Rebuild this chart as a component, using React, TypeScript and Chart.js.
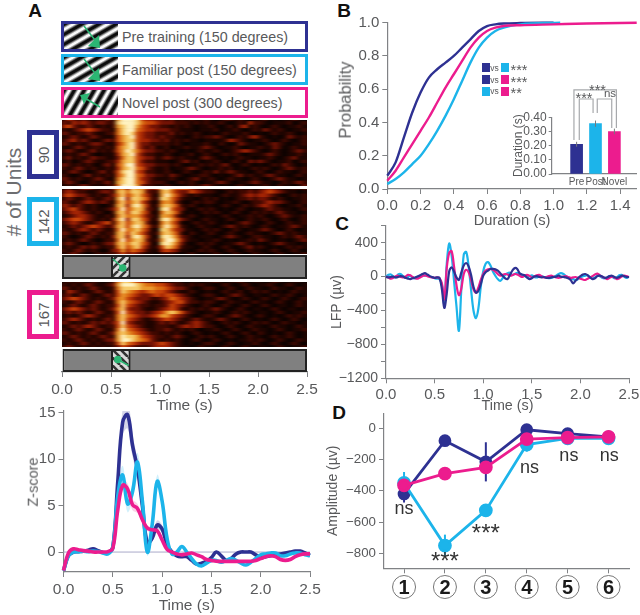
import React, { useEffect, useRef } from "react";
import { Chart, registerables } from "chart.js";

Chart.register(...registerables);

const NAVY = "#2e3192";
const CYAN = "#1cb4ea";
const PINK = "#ec1c8e";
const TEXT = "#58595b";
const AXIS = "#808285";
const FONT = "'Liberation Sans', Arial, sans-serif";

// ---------- Panel A heat maps: rows top to bottom, one digit (0-9) per 0.05 s bin
const heatColors = ["#0a0200", "#1e0400", "#3f0800", "#721204", "#a32404", "#c9450a", "#dc6c12", "#e9982e", "#f6cc6c", "#fff2c0"];
const heatBins = ["0.00","0.05","0.10","0.15","0.20","0.25","0.30","0.35","0.40","0.45","0.50","0.55","0.60","0.65","0.70","0.75","0.80","0.85","0.90","0.95","1.00","1.05","1.10","1.15","1.20","1.25","1.30","1.35","1.40","1.45","1.50","1.55","1.60","1.65","1.70","1.75","1.80","1.85","1.90","1.95","2.00","2.05","2.10","2.15","2.20","2.25","2.30","2.35","2.40","2.45"];
const heatPre = [
  "2432321223 1799985443 3231212112 1012212101 1201011210",
  "3243432332 2899986554 3332221212 1121012142 2101112012",
  "4532232121 2789975433 2212121011 2101203412 1012101121",
  "2123454322 1689965443 3322111011 1201121012 1321210112",
  "3212232112 2689854332 2231211210 1012111210 1012112101",
  "1232123211 1578954332 3221101212 2321012134 2101013212",
  "2342321123 2578854433 2312121101 1112432101 1210121012",
  "3212123321 1468953322 2212101112 1021013211 0123210112",
  "1123212212 1578953231 1201121123 2101121011 2113201211",
  "2321123121 2579864332 2121010121 1210123432 1012101232",
  "1212321011 1478953221 1210112012 1012121011 1232101121",
  "2312123221 1368854331 2321211023 2101012110 1121012311",
  "1201232112 2478853221 1101231201 1210121032 3210112012",
  "3212121023 1579954332 2212101121 2123101210 1012132101",
  "2123212112 1478965321 1201123210 1121201012 1210123212",
  "1232101231 2589954221 1210121012 1312321101 2101211012",
  "2101231212 1579965332 2132101122 1010123121 1232110121",
  "3212112321 1689964321 1121012311 2101211012 1012321101",
  "2321012123 1789965322 2101212101 1232101123 2110121232",
  "1212321112 2699973221 1210112123 2101012101 1210211013",
];
const heatFamiliar = [
  "2312332121 3674877434 8975554322 1112122121 2343211212",
  "3432211233 2786887322 7864335432 2101212232 3454321101",
  "4543321212 3685786421 7975321211 1012112343 4432101212",
  "2321232123 2794887522 8864211012 1201012232 3321210112",
  "3212343232 1685785311 6763101212 2101121012 2343321012",
  "4323212101 2784897412 7875212101 1012101212 3432101121",
  "3453212112 3695787321 8964310121 2101012101 1232211012",
  "2344321210 2785886411 6875201012 1210121012 1212321101",
  "1234432112 1686775321 7763112101 1012101121 2101232112",
  "3455432121 3794886412 8975321012 1101210121 1210121012",
  "2343212345 2685787311 6864101211 2101012321 0121012112",
  "1232345432 3785897522 7975210121 1012321210 1210112321",
  "2123432321 2696786411 8864311012 1210121011 2321012101",
  "3212123212 2785875312 7875202101 2101210121 1012321211",
  "2101232121 3784897411 8986321011 1012321012 2110121232",
  "1212321012 2695787312 7997421101 1210101121 3210110123",
  "2321012123 3786886411 8986310121 2101123210 1012321101",
  "1212323212 2685785312 5875211012 1012101231 2101012121",
  "2123212101 3474654211 4543110121 2101210121 1012101210",
  "1232101212 2353432110 2221012101 1210121012 1101210112",
];
const heatNovel = [
  "1212112101 2688754322 2212101101 1210112101 1012101110",
  "2121232112 3799987665 5432212121 1012101210 1121012101",
  "3212123211 2688887776 6543321012 2101210121 1012110121",
  "1432112321 2587654565 5432112101 1012112012 1210101211",
  "2312321123 2576543345 4554321012 2101232101 1012112101",
  "3454321212 3675433322 3465432101 1232101210 1210121012",
  "2123212321 2686543211 2345532212 2101211012 1101210121",
  "1232123212 2585432212 2354321012 1012101210 1210110121",
  "3454323212 3684332112 3454212121 2321012101 1012101101",
  "2323212321 2595433234 5787532101 1210121210 1101210112",
  "1212343212 2686543345 7754321012 2101232101 2101012121",
  "2343212123 2685432123 4543212321 1232101210 1012101210",
  "3212123232 3594322112 3232123432 1012121012 1210121101",
  "1232343212 2585432112 2212343432 2101210121 1012110121",
  "2123212321 2696543212 2321212101 1210121012 1101210112",
  "3212123212 3787654322 1212101210 1012101210 2101012101",
  "1232121232 2798875432 2123210121 2101210121 1012112101",
  "2123212123 3799876532 1212101210 1210101121 2101210121",
  "1212321212 2586543334 5432101012 2101210112 1012101210",
  "2321212121 2354322234 4432110121 1012101210 1101210112",
];

// ---------- Panel A z-score traces, one value per 0.05 s
const zTime = [0,0.05,0.1,0.15,0.2,0.25,0.3,0.35,0.4,0.45,0.5,0.55,0.6,0.65,0.7,0.75,0.8,0.85,0.9,0.95,1,1.05,1.1,1.15,1.2,1.25,1.3,1.35,1.4,1.45,1.5,1.55,1.6,1.65,1.7,1.75,1.8,1.85,1.9,1.95,2,2.05,2.1,2.15,2.2,2.25,2.3,2.35,2.4,2.45,2.5];
const zNavy = [-2,-0.4,0,0.05,0.1,0.2,0.35,0.15,-0.05,-0.05,0.5,7.5,14,14.8,11.5,9,5,1,1.5,2.9,2.5,0.8,0,-0.4,-0.5,-0.5,-0.9,-1.3,-1.2,-1,-0.6,0,-0.4,-0.9,-0.7,-0.2,0,0,0,-0.3,-0.6,-0.5,-0.4,-0.3,-0.2,-0.1,0,0.1,0.1,-0.1,-0.35];
const zCyan = [-2,-0.4,0,0.05,0.1,0.05,0.1,0.05,-0.1,-0.2,0.5,6,8.3,5.2,6.5,9.7,5.5,0,3,7.6,5.5,1.5,-0.2,0,0.6,0,-0.7,-1.3,-1.5,-1.2,-0.9,-0.9,-1.1,-0.9,-0.7,-0.9,-1.2,-1.4,-1.1,-0.7,-0.3,-0.2,-0.1,-0.1,-0.4,-0.4,-0.2,-0.1,-0.1,-0.3,-0.4];
const zPink = [-2,-0.1,0.35,0.25,0.15,0.1,0,0,0,0.05,0.4,4.5,7.2,6.8,5.1,4.7,3.5,2.6,2.4,2.3,1.3,0.3,0,-0.2,-0.3,-0.2,-0.1,-0.3,-0.5,-0.8,-0.9,-1,-1,-1,-1,-1,-1,-1,-1,-0.9,-0.7,-0.5,-0.4,-0.5,-0.8,-0.9,-0.8,-0.5,-0.3,-0.2,-0.2];
const zNavySem = [0.1,0.1,0.1,0.1,0.1,0.1,0.1,0.1,0.1,0.1,0.2,1,1.4,1.5,1.2,0.9,0.6,0.4,0.4,0.5,0.4,0.3,0.1,0.1,0.1,0.1,0.1,0.1,0.1,0.1,0.1,0.1,0.1,0.1,0.1,0.1,0.1,0.1,0.1,0.1,0.1,0.1,0.1,0.1,0.1,0.1,0.1,0.1,0.1,0.1,0.1];
const zCyanSem = [0.1,0.1,0.1,0.1,0.1,0.1,0.1,0.1,0.1,0.1,0.2,0.8,1,0.9,0.9,1,0.7,0.4,0.5,0.7,0.6,0.3,0.2,0.2,0.2,0.2,0.1,0.1,0.1,0.1,0.1,0.1,0.1,0.1,0.1,0.1,0.1,0.1,0.1,0.1,0.1,0.1,0.1,0.1,0.1,0.1,0.1,0.1,0.1,0.1,0.1];
const zPinkSem = [0.1,0.1,0.1,0.1,0.1,0.1,0.1,0.1,0.1,0.1,0.2,0.4,0.5,0.6,0.6,0.5,0.4,0.3,0.3,0.3,0.3,0.2,0.1,0.1,0.1,0.1,0.1,0.1,0.1,0.1,0.1,0.1,0.1,0.1,0.1,0.1,0.1,0.1,0.1,0.1,0.1,0.1,0.1,0.1,0.1,0.1,0.1,0.1,0.1,0.1,0.1];

// ---------- Panel B cumulative durations
const cdfTime = [0,0.05,0.1,0.15,0.2,0.25,0.3,0.35,0.4,0.45,0.5,0.55,0.6,0.65,0.7,0.8];
const cdfNavy = [0.08,0.16,0.31,0.46,0.58,0.67,0.72,0.76,0.8,0.85,0.9,0.95,0.98,0.99,0.995,0.998];
const cdfPink = [0.05,0.11,0.19,0.27,0.35,0.43,0.52,0.61,0.69,0.77,0.85,0.91,0.95,0.97,0.98,0.985];
const cdfCyan = [0.03,0.06,0.1,0.15,0.2,0.27,0.35,0.44,0.54,0.65,0.76,0.85,0.91,0.95,0.97,0.99];
const cdfNavyEnd = [1.0, 1];
const cdfCyanEnd = [1.04, 1];
const cdfPinkTail = [[1.0, 0.99], [1.2, 0.995], [1.5, 1]];

const insetLabels = ["Pre", "Post", "Novel"];
const insetValues = [0.21, 0.355, 0.3];
const insetErrors = [0.017, 0.022, 0.02];
const insetColors = [NAVY, CYAN, PINK];
const insetBrackets = [
  [[0.859, 0.24], [0.859, 0.593], [3.106, 0.593], [3.106, 0.325]],
  [[1.141, 0.24], [1.141, 0.529], [1.871, 0.529], [1.871, 0.43]],
  [[2.093, 0.43], [2.093, 0.529], [2.859, 0.529], [2.859, 0.325]],
];

// ---------- Panel C LFP traces, one value per 0.025 s
const lfpCyan = [0,20,25,0,-10,25,30,5,-15,-5,10,-15,-20,0,5,20,10,15,0,-10,-20,-25,-30,-100,-320,150,390,250,-50,-350,-640,-150,260,290,120,-150,-400,-490,-380,-120,60,150,170,130,60,10,-30,-50,-20,20,40,45,20,30,45,30,20,10,-10,0,15,-5,-10,0,5,-5,-10,-20,-15,-5,10,30,40,30,5,-10,-20,-30,-40,-30,-10,5,10,15,-10,-20,-10,10,5,-15,-20,-10,5,0,-20,-10,15,20,0,-15,-5];
const lfpPink = [0,-10,-25,-15,5,10,-5,-10,0,20,15,-5,-20,-25,-10,5,15,5,-5,-10,-15,-10,-20,-80,-270,100,280,300,120,-100,-220,-140,30,80,50,-40,-150,-190,-130,-40,30,70,85,90,80,60,30,10,20,30,25,10,15,30,25,10,-5,10,20,10,-10,0,15,20,5,-10,-5,5,10,0,-10,-15,-10,0,5,-5,-15,-10,-5,-15,-25,-35,-40,-25,-10,5,25,35,15,-5,-15,-30,-15,0,-10,-30,-20,0,10,5,-5];
const lfpNavy = [-5,-10,-5,0,-10,-5,5,0,-15,-25,-30,-20,-10,0,15,30,40,25,5,-5,-15,-10,-15,-150,-370,-200,60,110,60,-10,-40,50,130,160,120,20,-120,-190,-170,-90,10,50,70,90,90,85,70,40,10,-20,-30,20,70,100,90,40,25,15,-10,-30,-20,0,5,-5,-10,-5,-15,-15,-10,-5,0,10,0,-5,-10,-20,-40,-80,-50,-20,5,25,30,15,-10,-30,-20,5,10,0,-15,-10,5,10,-5,-15,-5,10,5,-5,-5];

// ---------- Panel D amplitudes
const windows = [1, 2, 3, 4, 5, 6];
const ampTicks = [0, -200, -400, -600, -800];
const ampNavy = [-420, -80, -215, -10, -35, -55];
const ampCyan = [-350, -750, -525, -105, -65, -65];
const ampPink = [-365, -290, -250, -70, -60, -55];
const ampNavyErr = [55, 15, 125, 15, 10, 10];
const ampCyanErr = [70, 70, 35, 45, 15, 15];
const ampPinkErr = [25, 15, 25, 25, 10, 10];
const ampNotes: [number, number, string][] = [
  [1, -515, "ns"], [2, -860, "***"], [3, -680, "***"], [4.07, -255, "ns"], [5.03, -180, "ns"], [6.02, -180, "ns"],
];

// ---------- helpers
const num1 = (v: any) => Number(v).toFixed(1);
const fix = (size: number, prop: "width" | "height") => (s: any) => {
  s[prop] = size;
  s.paddingLeft = s.paddingRight = s.paddingTop = s.paddingBottom = 0;
};
function frame(box: number[], plot: number[], yShown = true, xShown = true) {
  const [L, T, W, H] = box;
  const [l, t, r, b] = plot;
  return {
    layout: {
      padding: {
        left: yShown ? 0 : l - L,
        top: t - T,
        right: L + W - r,
        bottom: xShown ? 0 : T + H - b,
      },
    },
    yw: l - L,
    xh: T + H - b,
  };
}
const tickFont = (size: number) => ({ family: FONT, size });
function xTitle(text: string, size: number, center: number, bottom: number) {
  return {
    display: true,
    text,
    color: TEXT,
    font: { family: FONT, size },
    padding: { top: 0, bottom: bottom - center - (size * 1.2) / 2 },
  };
}
function yTitle(text: string, size: number, center: number, left: number) {
  return {
    display: true,
    text,
    color: TEXT,
    font: { family: FONT, size },
    padding: { top: center - left - (size * 1.2) / 2, bottom: 0 },
  };
}
function axis(extra: any) {
  return {
    type: "linear",
    grid: { drawOnChartArea: false, drawTicks: true, tickLength: 5, color: AXIS, lineWidth: 1 },
    border: { color: AXIS, width: 1.2 },
    ...extra,
    ticks: { color: TEXT, autoSkip: false, maxRotation: 0, includeBounds: false, padding: 3, ...extra.ticks },
  };
}
const baseOpts = { responsive: false, animation: false, plugins: { legend: { display: false }, tooltip: { enabled: false } } };

function heatConfig(rows: string[]) {
  const clean = rows.map((r) => r.split(" ").join(""));
  const datasets = clean
    .slice()
    .reverse()
    .map((row) => ({
      data: heatBins.map(() => 1),
      backgroundColor: heatBins.map((_, i) => heatColors[Number(row[i] ?? 0)]),
      borderWidth: 0,
      barPercentage: 1,
      categoryPercentage: 1,
    }));
  return {
    type: "bar",
    data: { labels: heatBins, datasets },
    options: {
      ...baseOpts,
      layout: { padding: { left: 10, right: 10 } },
      scales: {
        x: { display: false, stacked: true },
        y: { display: false, stacked: true, min: 0, max: rows.length },
      },
    },
  };
}

function stripes(angle: number) {
  const c = document.createElement("canvas");
  c.width = c.height = 8;
  const g = c.getContext("2d")!;
  g.fillStyle = "#d9d9d9";
  g.fillRect(0, 0, 8, 8);
  g.strokeStyle = "#333";
  g.lineWidth = 2.6;
  g.beginPath();
  if (angle > 0) {
    for (let k = -8; k <= 16; k += 8) { g.moveTo(k, 8); g.lineTo(k + 8, 0); }
  } else {
    for (let k = -8; k <= 16; k += 8) { g.moveTo(k, 0); g.lineTo(k + 8, 8); }
  }
  g.stroke();
  return g.createPattern(c, "repeat");
}

function stimConfig(box: number[], plot: number[], angle: number, showAxis: boolean, arrow: number[]) {
  const f = frame(box, plot, false, showAxis);
  return {
    type: "bar",
    data: {
      labels: ["stim"],
      datasets: [
        { data: [[0, 2.5]], order: 2, backgroundColor: "#808080", borderColor: "#222", borderWidth: 2, borderSkipped: false, grouped: false, barPercentage: 1, categoryPercentage: 1, inflateAmount: 0 },
        { data: [[0.5, 0.7]], order: 1, backgroundColor: stripes(angle), borderColor: "#222", borderWidth: 2, borderSkipped: false, grouped: false, barPercentage: 1, categoryPercentage: 1, inflateAmount: 0 },
      ],
    },
    options: {
      ...baseOpts,
      indexAxis: "y",
      layout: f.layout,
      scales: {
        y: { display: false },
        x: showAxis
          ? axis({
              min: 0,
              max: 2.5,
              afterFit: fix(f.xh, "height"),
              title: xTitle("Time (s)", 15.5, 406, box[1] + box[3]),
              ticks: { stepSize: 0.5, callback: num1, font: tickFont(15.5) },
            })
          : { display: false, min: 0, max: 2.5 },
      },
    },
    plugins: [
      {
        id: "stimArrow",
        afterDatasetsDraw(c: any) {
          const g = c.ctx;
          const x = c.scales.x;
          const y0 = (c.chartArea.top + c.chartArea.bottom) / 2;
          g.save();
          g.strokeStyle = g.fillStyle = "#2bb673";
          g.lineWidth = 1.5;
          g.beginPath();
          g.moveTo(x.getPixelForValue(arrow[0]), y0 + arrow[1]);
          g.lineTo(x.getPixelForValue(arrow[2]), y0 + arrow[3]);
          g.stroke();
          g.beginPath();
          g.arc(x.getPixelForValue(arrow[2]), y0 + arrow[3], 3.8, 0, Math.PI * 2);
          g.fill();
          g.restore();
        },
      },
    ],
  };
}

function zConfig() {
  const box = [0, 405, 325, 210];
  const f = frame(box, [63.5, 411, 310, 572]);
  const band = (vals: number[], sem: number[], color: string) => [
    { data: vals.map((v, i) => v + sem[i]), order: 5, borderWidth: 0, pointRadius: 0, fill: "+1", backgroundColor: color, tension: 0.4, clip: false },
    { data: vals.map((v, i) => v - sem[i]), order: 5, borderWidth: 0, pointRadius: 0, fill: false, tension: 0.4, clip: false },
  ];
  const line = (vals: number[], color: string, order: number) => ({ data: vals, order, borderColor: color, borderWidth: 3.6, pointRadius: 0, tension: 0.4, fill: false, clip: false });
  return {
    type: "line",
    data: {
      labels: zTime,
      datasets: [
        ...band(zNavy, zNavySem, "rgba(46,49,146,0.2)"),
        ...band(zCyan, zCyanSem, "rgba(28,180,234,0.2)"),
        ...band(zPink, zPinkSem, "rgba(236,28,142,0.2)"),
        line(zNavy, NAVY, 3),
        line(zCyan, CYAN, 2),
        line(zPink, PINK, 1),
      ],
    },
    options: {
      ...baseOpts,
      layout: f.layout,
      scales: {
        x: axis({
          min: 0,
          max: 2.5,
          afterFit: fix(f.xh, "height"),
          title: xTitle("Time (s)", 15.5, 606, 615),
          ticks: { stepSize: 0.5, callback: num1, font: tickFont(15.5) },
        }),
        y: axis({
          min: -2.15,
          max: 15.2,
          afterFit: fix(f.yw, "width"),
          ticks: { stepSize: 5, callback: (v: any) => String(v), font: tickFont(15) },
        }),
      },
    },
    plugins: [
      {
        id: "zero",
        beforeDatasetsDraw(c: any) {
          const g = c.ctx;
          const y = c.scales.y.getPixelForValue(0);
          g.save();
          g.strokeStyle = "#a9a9c9";
          g.lineWidth = 1;
          g.beginPath();
          g.moveTo(c.chartArea.left, y);
          g.lineTo(c.chartArea.right, y);
          g.stroke();
          g.restore();
        },
      },
    ],
  };
}

function cdfConfig() {
  const box = [350, 10, 290, 222];
  const f = frame(box, [387.3, 22.7, 636.7, 189]);
  const pts = (xs: number[], ys: number[]) => xs.map((x, i) => ({ x, y: ys[i] }));
  const line = (d: any[], color: string, order: number) => ({ data: d, order, borderColor: color, borderWidth: 2.4, pointRadius: 0, tension: 0.4, cubicInterpolationMode: "monotone", fill: false, clip: false });
  return {
    type: "line",
    data: {
      datasets: [
        line([...pts(cdfTime, cdfNavy), { x: cdfNavyEnd[0], y: cdfNavyEnd[1] }], NAVY, 3),
        line([...pts(cdfTime, cdfCyan), { x: cdfCyanEnd[0], y: cdfCyanEnd[1] }], CYAN, 2),
        line([...pts(cdfTime, cdfPink), ...cdfPinkTail.map(([x, y]) => ({ x, y }))], PINK, 1),
      ],
    },
    options: {
      ...baseOpts,
      layout: f.layout,
      scales: {
        x: axis({
          min: 0,
          max: 1.5,
          afterFit: fix(f.xh, "height"),
          title: xTitle("Duration (s)", 14.7, 221, 232),
          ticks: { stepSize: 0.2, callback: num1, font: tickFont(15) },
        }),
        y: axis({
          min: 0,
          max: 1,
          afterFit: fix(f.yw, "width"),
          ticks: { stepSize: 0.2, callback: num1, font: tickFont(15) },
        }),
      },
    },
  };
}

function insetConfig() {
  const box = [510, 78, 130, 122];
  const f = frame(box, [551.7, 117.3, 636, 174]);
  return {
    type: "bar",
    data: {
      datasets: [
        {
          data: insetValues.map((y, i) => ({ x: i + 1, y })),
          backgroundColor: insetColors,
          barThickness: 12,
        },
      ],
    },
    options: {
      ...baseOpts,
      layout: f.layout,
      scales: {
        x: axis({
          min: 0.425,
          max: 3.4,
          afterFit: fix(f.xh, "height"),
          grid: { display: false, tickLength: 0 },
          ticks: { stepSize: 1, padding: 2, callback: (v: any) => insetLabels[Number(v) - 1] ?? "", font: tickFont(10) },
        }),
        y: axis({
          min: 0,
          max: 0.4,
          afterFit: fix(f.yw, "width"),
          title: yTitle("Duration (s)", 12, 519, 510),
          ticks: { stepSize: 0.1, callback: (v: any) => Number(v).toFixed(2), font: tickFont(12), padding: 2 },
          grid: { drawOnChartArea: false, tickLength: 3, color: AXIS },
        }),
      },
    },
    plugins: [
      {
        id: "insetMarks",
        afterDatasetsDraw(c: any) {
          const g = c.ctx;
          const { x, y } = c.scales;
          g.save();
          g.strokeStyle = "#77787b";
          g.lineWidth = 1;
          insetValues.forEach((v, i) => {
            g.beginPath();
            g.moveTo(x.getPixelForValue(i + 1), y.getPixelForValue(v - insetErrors[i]));
            g.lineTo(x.getPixelForValue(i + 1), y.getPixelForValue(v + insetErrors[i]));
            g.stroke();
          });
          g.strokeStyle = "#a7a9ac";
          g.lineWidth = 1.2;
          insetBrackets.forEach((br) => {
            g.beginPath();
            br.forEach(([a, b], k) => {
              const px = x.getPixelForValue(a);
              const py = y.getPixelForValue(b);
              if (k) g.lineTo(px, py);
              else g.moveTo(px, py);
            });
            g.stroke();
          });
          g.restore();
        },
      },
    ],
  };
}

function lfpConfig() {
  const box = [325, 220, 315, 195];
  const f = frame(box, [386, 225.7, 629, 378.3]);
  const line = (vals: number[], color: string, order: number) => ({
    data: vals.map((y, i) => ({ x: i * 0.025, y })),
    order,
    borderColor: color,
    borderWidth: 2.2,
    pointRadius: 0,
    tension: 0.35,
    fill: false,
    clip: false,
  });
  return {
    type: "line",
    data: { datasets: [line(lfpCyan, CYAN, 3), line(lfpPink, PINK, 2), line(lfpNavy, NAVY, 1)] },
    options: {
      ...baseOpts,
      layout: f.layout,
      scales: {
        x: axis({
          min: 0,
          max: 2.5,
          afterFit: fix(f.xh, "height"),
          title: xTitle("Time (s)", 14.3, 406.5, 415),
          ticks: { stepSize: 0.5, callback: num1, font: tickFont(15) },
        }),
        y: axis({
          min: -1200,
          max: 600,
          afterFit: fix(f.yw, "width"),
          title: yTitle("LFP (µv)", 14, 337, 325),
          ticks: {
            stepSize: 200,
            font: tickFont(14),
            callback: (v: any) => (Number(v) % 400 === 0 ? String(v).replace("-", "\u2212") : ""),
          },
        }),
      },
    },
  };
}

function ampConfig() {
  const box = [325, 405, 315, 205];
  const f = frame(box, [384, 411.7, 629, 568.3]);
  const line = (vals: number[], color: string, r: number, order: number) => ({
    data: vals.map((y, i) => ({ x: windows[i], y })),
    order,
    borderColor: color,
    backgroundColor: color,
    borderWidth: 2.8,
    pointRadius: r,
    tension: 0,
    fill: false,
    clip: false,
  });
  const errs: [number[], number[], string][] = [
    [ampNavy, ampNavyErr, NAVY],
    [ampCyan, ampCyanErr, CYAN],
    [ampPink, ampPinkErr, PINK],
  ];
  return {
    type: "line",
    data: { datasets: [line(ampNavy, NAVY, 5, 3), line(ampCyan, CYAN, 5.5, 2), line(ampPink, PINK, 5.5, 1)] },
    options: {
      ...baseOpts,
      layout: f.layout,
      scales: {
        x: axis({
          min: 0.51,
          max: 6.5,
          afterFit: fix(f.xh, "height"),
          ticks: { stepSize: 1, callback: (v: any) => String(v), color: "#1a1a1a", padding: 3, font: { family: FONT, size: 20, weight: "bold" } },
        }),
        y: axis({
          min: -895,
          max: 95,
          afterFit: fix(f.yw, "width"),
          afterBuildTicks: (s: any) => { s.ticks = ampTicks.map((value) => ({ value })); },
          title: yTitle("Amplitude (µv)", 14, 333, 325),
          ticks: { font: tickFont(13.3), callback: (v: any) => String(v).replace("-", "\u2212") },
        }),
      },
    },
    plugins: [
      {
        id: "ampMarks",
        beforeDatasetsDraw(c: any) {
          const g = c.ctx;
          const { x, y } = c.scales;
          g.save();
          g.lineWidth = 2;
          errs.forEach(([vals, e, col]) => {
            g.strokeStyle = col;
            vals.forEach((v, i) => {
              g.beginPath();
              g.moveTo(x.getPixelForValue(windows[i]), y.getPixelForValue(v - e[i]));
              g.lineTo(x.getPixelForValue(windows[i]), y.getPixelForValue(v + e[i]));
              g.stroke();
            });
          });
          g.restore();
        },
        afterDatasetsDraw(c: any) {
          const g = c.ctx;
          const { x, y } = c.scales;
          g.save();
          g.fillStyle = "#333";
          g.textAlign = "center";
          g.textBaseline = "middle";
          ampNotes.forEach(([a, b, t]) => {
            g.font = `${t === "ns" ? 18 : 24}px ${FONT}`;
            g.fillText(t, x.getPixelForValue(a), y.getPixelForValue(b));
          });
          g.strokeStyle = "#777";
          g.lineWidth = 1;
          windows.forEach((w) => {
            g.beginPath();
            g.arc(x.getPixelForValue(w), 182, 11.5, 0, Math.PI * 2);
            g.stroke();
          });
          g.restore();
        },
      },
    ],
  };
}

function ChartBox({ box, make, bg, heat }: { box: number[]; make: () => any; bg?: string; heat?: boolean }) {
  const ref = useRef<HTMLCanvasElement>(null);
  useEffect(() => {
    const chart = new Chart(ref.current as any, make());
    return () => chart.destroy();
  }, []);
  return (
    <canvas
      ref={ref}
      width={box[2]}
      height={box[3]}
      style={{
        position: "absolute",
        left: box[0],
        top: box[1],
        width: box[2],
        height: box[3],
        background: bg,
        filter: heat ? "url(#streak)" : undefined,
        clipPath: heat ? "inset(2px 10px)" : undefined,
      }}
    />
  );
}

function Txt({ x, y, size, rot = 0, color = TEXT, weight = 400, children }: any) {
  return (
    <div
      style={{
        position: "absolute",
        left: x,
        top: y,
        transform: `translate(-50%,-50%) rotate(${rot}deg)`,
        fontFamily: FONT,
        fontSize: size,
        fontWeight: weight,
        color,
        whiteSpace: "nowrap",
        lineHeight: 1,
      }}
    >
      {children}
    </div>
  );
}

function StimBox({ top, height, color, angle, label, arrow }: any) {
  return (
    <div
      style={{
        position: "absolute",
        left: 61,
        top,
        width: 247,
        height,
        boxSizing: "border-box",
        border: `3px solid ${color}`,
        background: "#fff",
      }}
    >
      <div
        style={{
          position: "absolute",
          left: 0,
          top: 0,
          width: 54,
          height: "100%",
          filter: "blur(0.4px)",
          background: `repeating-linear-gradient(${angle}deg, #0a0a0a 0px, #111 1.5px, #f4f4f4 4px, #fff 5.5px, #111 8px, #0a0a0a 8.6px)`,
        }}
      />
      <svg width={54} height={height - 6} style={{ position: "absolute", left: 0, top: 0 }}>
        <line x1={arrow[0]} y1={arrow[1]} x2={arrow[2]} y2={arrow[3]} stroke="#2bb673" strokeWidth={1.5} />
        <polygon points={arrow[4]} fill="#2bb673" />
      </svg>
      <div
        style={{
          position: "absolute",
          left: 58,
          top: 0,
          height: "100%",
          display: "flex",
          alignItems: "center",
          fontFamily: FONT,
          fontSize: 14.3,
          color: TEXT,
          whiteSpace: "nowrap",
        }}
      >
        {label}
      </div>
    </div>
  );
}

function CountBox({ top, color, label }: any) {
  return (
    <div
      style={{
        position: "absolute",
        left: 27,
        top,
        width: 32,
        height: 49,
        boxSizing: "border-box",
        border: `5px solid ${color}`,
        background: "#fff",
      }}
    >
      <Txt x={11} y={19.5} size={15} rot={-90}>{label}</Txt>
    </div>
  );
}

function VsRow({ y, a, b, sig }: any) {
  const sw = (x: number, c: string) => (
    <div style={{ position: "absolute", left: x, top: y - 4.5, width: 8, height: 9, background: c }} />
  );
  return (
    <>
      {sw(481.5, a)}
      <Txt x={494.5} y={y} size={8.5}>vs</Txt>
      {sw(501, b)}
      <div style={{ position: "absolute", left: 510.5, top: y - 5, fontFamily: FONT, fontSize: 14.5, lineHeight: 1, color: TEXT }}>{sig}</div>
    </>
  );
}

export default function App() {
  return (
    <div style={{ position: "absolute", left: 0, top: 0, width: 640, height: 615, background: "#fff", overflow: "hidden" }}>
      <svg width={0} height={0} style={{ position: "absolute" }}>
        <filter id="streak" x="0" y="0" width="100%" height="100%" colorInterpolationFilters="sRGB">
          <feGaussianBlur stdDeviation="2.2 0.5" />
        </filter>
      </svg>

      <Txt x={35} y={10} size={19} weight={700} color="#111">A</Txt>
      <Txt x={344} y={10} size={19} weight={700} color="#111">B</Txt>
      <Txt x={342} y={223} size={19} weight={700} color="#111">C</Txt>
      <Txt x={339} y={412} size={19} weight={700} color="#111">D</Txt>

      <StimBox top={21} height={31} color={NAVY} angle={150} label="Pre training (150 degrees)" arrow={[20, 2, 34, 20, "24,22 36,24 35,11"]} />
      <StimBox top={54} height={31} color={CYAN} angle={150} label="Familiar post (150 degrees)" arrow={[20, 2, 34, 20, "24,22 36,24 35,11"]} />
      <StimBox top={87} height={31} color={PINK} angle={120} label="Novel post (300 degrees)" arrow={[36, 17, 19, 7, "16,5 26,3 20,14"]} />

      <Txt x={13} y={192} size={21} rot={-90} color="#6d6e71"># of Units</Txt>
      <CountBox top={130} color={NAVY} label="90" />
      <CountBox top={197} color={CYAN} label="142" />
      <CountBox top={290} color={PINK} label="167" />

      <ChartBox box={[52, 118, 265, 70]} make={() => heatConfig(heatPre)} bg="#1e0400" heat />
      <ChartBox box={[52, 187, 265, 69]} make={() => heatConfig(heatFamiliar)} bg="#1e0400" heat />
      <ChartBox box={[52, 280, 265, 69]} make={() => heatConfig(heatNovel)} bg="#1e0400" heat />
      <ChartBox box={[62, 255, 245, 24]} make={() => stimConfig([62, 255, 245, 24], [62, 255, 307, 279], 1, false, [0.52, -8, 0.62, 1])} />
      <ChartBox box={[40, 349, 290, 68]} make={() => stimConfig([40, 349, 290, 68], [62, 349, 307, 372], -1, true, [0.68, 5, 0.57, -1])} />

      <ChartBox box={[0, 405, 325, 210]} make={zConfig} />
      <Txt x={33} y={482} size={14.5} rot={-90}>Z-score</Txt>

      <ChartBox box={[350, 10, 290, 222]} make={cdfConfig} />
      <Txt x={345} y={100} size={16.5} rot={-90}>Probability</Txt>
      <VsRow y={67.5} a={NAVY} b={CYAN} sig="***" />
      <VsRow y={79.5} a={NAVY} b={PINK} sig="***" />
      <VsRow y={91} a={CYAN} b={PINK} sig="**" />
      <ChartBox box={[510, 78, 130, 122]} make={insetConfig} />
      <div style={{ position: "absolute", left: 589, top: 83, fontFamily: FONT, fontSize: 14.5, lineHeight: 1, color: TEXT }}>***</div>
      <div style={{ position: "absolute", left: 575.5, top: 91, fontFamily: FONT, fontSize: 14.5, lineHeight: 1, color: TEXT }}>***</div>
      <Txt x={610} y={94} size={11.5}>ns</Txt>

      <ChartBox box={[325, 220, 315, 195]} make={lfpConfig} />
      <ChartBox box={[325, 405, 315, 205]} make={ampConfig} />
    </div>
  );
}
